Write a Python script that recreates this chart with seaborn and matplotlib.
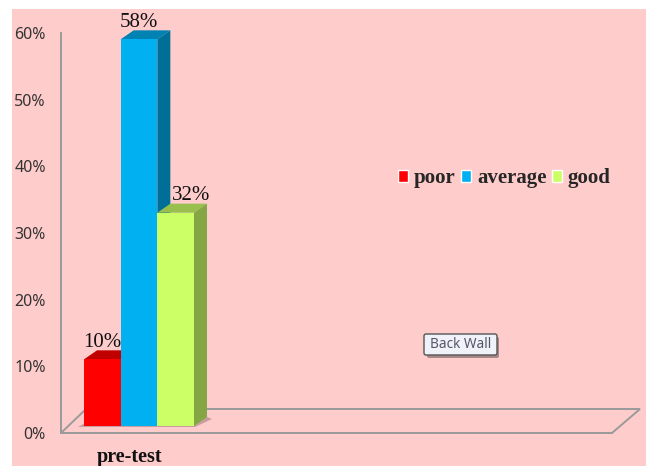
import matplotlib
matplotlib.use("Agg")
import matplotlib.pyplot as plt
import pandas as pd
import seaborn as sns
from matplotlib.patches import FancyBboxPatch, Polygon, Rectangle

# dati
test = ["pre-test"]
levels = ["poor", "average", "good"]
values = [10, 58, 32]
yticks = [0, 10, 20, 30, 40, 50, 60]
colors = ["#FF0000", "#00B0F0", "#CCFF66"]
top_colors = ["#C00000", "#0083B3", "#99BF4C"]
side_colors = ["#A00000", "#006F98", "#85A645"]

W, H = 646, 466
GRAY = "#9A9A9A"

sns.set_theme(style="white")
plt.rcParams["font.family"] = ["Liberation Serif", "DejaVu Sans"]

df = pd.DataFrame({"test": test * 3, "level": levels, "value": values})

fig = plt.figure(figsize=(W / 100, H / 100), dpi=100, facecolor="white")


def box(x0, y0, x1, y1):
    # da pixel (origine in alto) a frazioni della figura
    return [x0 / W, 1 - y1 / H, (x1 - x0) / W, (y1 - y0) / H]


# sfondo e decorazioni in pixel
bg = fig.add_axes([0, 0, 1, 1])
bg.set_xlim(0, W)
bg.set_ylim(H, 0)
bg.axis("off")
bg.add_patch(Rectangle((12, 9), W - 12, H - 9, color="#FFCCCC", lw=0))
bg.add_patch(Polygon([(61, 433), (86, 409), (640, 409), (612, 433)], closed=True,
                     fill=False, ec=GRAY, lw=1.4))
# ombra ai piedi delle barre
bg.add_patch(Polygon([(78, 427), (195, 427), (212, 419), (207, 417), (90, 420)], closed=True,
                     color="#B08A8A", alpha=0.7, lw=0))
# bottone "Back Wall"
bg.add_patch(FancyBboxPatch((427, 337), 72, 21, boxstyle="round,pad=0,rounding_size=2",
                            fc="#8A7070", ec="none", alpha=0.75))
bg.add_patch(FancyBboxPatch((424, 334), 73, 21, boxstyle="round,pad=0,rounding_size=2",
                            fc="#F0F2FA", ec="#555555", lw=1))
bg.text(460.5, 345, "Back Wall", ha="center", va="center", fontsize=9.8,
        family=["Noto Sans"], color="#555566")

# assi: parete con le etichette in %
wall = fig.add_axes(box(61, 33, 612, 433), facecolor="none")
wall.set_ylim(0, 60)
wall.set_xlim(0, 1)
wall.set_yticks(yticks)
wall.set_yticklabels([f"{v}%" for v in yticks], family=["Noto Sans"], fontsize=11.5, color="#333333")
wall.set_xticks([])
wall.tick_params(axis="y", length=0, pad=11)
for s in ["top", "right"]:
    wall.spines[s].set_visible(False)
for s in ["left", "bottom"]:
    wall.spines[s].set_color(GRAY)
    wall.spines[s].set_linewidth(1.4)

# barre: piano frontale, spostato rispetto alla parete
ax = fig.add_axes(box(84, 26, 640, 426), facecolor="none")
sns.barplot(data=df, x="test", y="value", hue="level", hue_order=levels, palette=colors,
            width=1, gap=0, saturation=1, ax=ax, legend=True)
px_x = 110.0
px_y = 400 / 60
ax.set_xlim(-0.5, -0.5 + 556 / px_x)
ax.set_ylim(0, 60)
ax.set_ylabel("")
ax.set_xlabel("")
ax.set_yticks([])
ax.set_xticks([-9 / px_x])
ax.set_xticklabels(test, fontsize=14.5, fontweight="bold", color="#111111")
ax.tick_params(axis="x", length=0, pad=15)
for s in ax.spines.values():
    s.set_visible(False)

dx, dy = 13 / px_x, 9 / px_y
label_shift = [0, 0, 15]
bars = [p for p in ax.patches if p.get_height() > 0]
for i, (p, v) in enumerate(zip(bars, values)):
    x0, x1, h = p.get_x(), p.get_x() + p.get_width(), p.get_height()
    p.set_zorder(2 * i + 3)
    p.set_linewidth(0)
    ax.add_patch(Polygon([(x0, h), (x0 + dx, h + dy), (x1 + dx, h + dy), (x1, h)], closed=True,
                         color=top_colors[i], lw=0, zorder=2 * i + 2, clip_on=False))
    ax.add_patch(Polygon([(x1, 0), (x1 + dx, dy), (x1 + dx, h + dy), (x1, h)], closed=True,
                         color=side_colors[i], lw=0, zorder=2 * i + 2, clip_on=False))
    ax.annotate(f"{v}%", ((x0 + x1) / 2, h), xytext=(label_shift[i] * 0.72, 12), textcoords="offset points",
                ha="center", va="center", fontsize=15, color="#111111", zorder=20,
                annotation_clip=False)

handles, labels = ax.get_legend_handles_labels()
ax.get_legend().remove()
fig.legend(handles, labels, loc="center left", bbox_to_anchor=(398 / W, 1 - 178 / H), ncol=3,
           frameon=False, handlelength=0.5, handleheight=0.5, handletextpad=0.27,
           columnspacing=0.25, borderpad=0, borderaxespad=0,
           prop={"family": "Liberation Serif", "weight": "bold", "size": 15})

fig.savefig("out.png", dpi=100)
